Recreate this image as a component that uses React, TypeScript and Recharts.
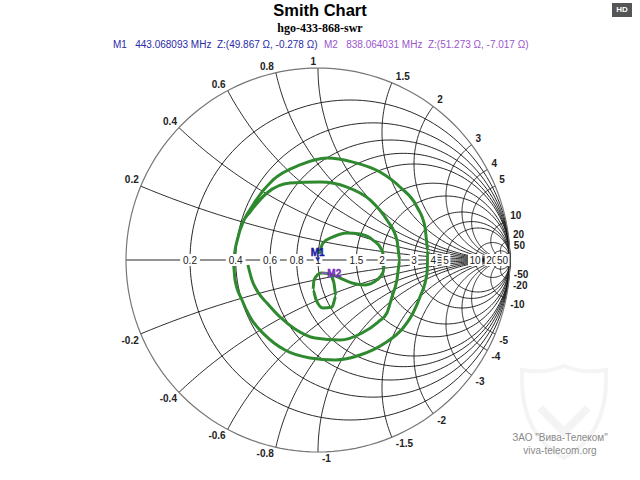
import React from 'react';
import { ComposedChart, Line, Scatter, XAxis, YAxis } from 'recharts';

// ---- chart values ----
const resistanceValues = [0.2, 0.4, 0.6, 0.8, 1, 1.5, 2, 3, 4, 5, 10, 20, 50];
const reactanceValues = [0.2, 0.4, 0.6, 0.8, 1, 1.5, 2, 3, 4, 5, 10, 20, 50];
const resistanceLabels = ['0.2', '0.4', '0.6', '0.8', '1', '1.5', '2', '3', '4', '5', '10', '20', '50'];

const traceRe = [
  -0.365, -0.344, -0.313, -0.266, -0.198, -0.12, -0.016, 0.115, 0.229, 0.313, 0.359, 0.385, 0.411, 0.427, 0.411, 0.359, 0.271, 0.151, 0.01, -0.146, -0.266, -0.354, -0.391,
  -0.427, -0.443, -0.432, -0.396, -0.354, -0.276, -0.172, -0.042, 0.089, 0.219, 0.349, 0.443, 0.495, 0.531, 0.568, 0.573, 0.557, 0.516, 0.427, 0.323, 0.182, 0.047, -0.094, -0.234, -0.339, -0.406, -0.427,
  null,
  0.0, 0.026, 0.078, 0.151, 0.219, 0.286, 0.333, 0.349, 0.339, 0.307, 0.245, 0.177, 0.115, 0.063, 0.016, -0.021, -0.026, -0.01, 0.026, 0.073, 0.094, 0.083, 0.063,
];
const traceIm = [
  -0.026, -0.104, -0.167, -0.224, -0.297, -0.359, -0.406, -0.417, -0.38, -0.323, -0.276, -0.193, -0.104, 0, 0.104, 0.208, 0.313, 0.38, 0.406, 0.401, 0.349, 0.25, 0.198,
  0.078, 0, -0.104, -0.208, -0.297, -0.391, -0.469, -0.51, -0.521, -0.495, -0.432, -0.354, -0.276, -0.193, -0.068, 0.052, 0.172, 0.276, 0.38, 0.458, 0.51, 0.531, 0.495, 0.417, 0.286, 0.156, 0.078,
  null,
  0.005, 0.089, 0.12, 0.141, 0.135, 0.104, 0.052, 0, -0.063, -0.104, -0.13, -0.12, -0.094, -0.073, -0.068, -0.104, -0.156, -0.208, -0.25, -0.245, -0.188, -0.12, -0.073,
];

const markerNames = ['M1', 'M2'];
const markerFreqs = ['443.068093', '838.064031'];
const markerR = [49.867, 51.273];
const markerX = [-0.278, -7.017];
const Z0 = 50;

const markerColors = ['#2a2aa6', '#9a55cc'];
const markerTextColors = ['#1818a0', '#7a2ec0'];

// ---- geometry of the Smith grid ----
const N = 160;
function circlePts(cx: number, cy: number, rad: number) {
  const pts = [];
  for (let i = 0; i <= N; i++) {
    const t = (i / N) * Math.PI * 2;
    pts.push({ x: cx + rad * Math.cos(t), y: cy + rad * Math.sin(t) });
  }
  return pts;
}
function resistanceCircle(r: number) {
  return circlePts(r / (1 + r), 0, 1 / (1 + r));
}
function reactanceArc(xv: number) {
  const s = Math.sign(xv);
  const a = Math.abs(xv);
  const cy = 1 / a;
  const rad = 1 / a;
  let end = Math.atan2((a * a - 1) / (a * (a * a + 1)), -2 / (a * a + 1));
  const start = -Math.PI / 2;
  if (end > start) end -= Math.PI * 2;
  const pts = [];
  for (let i = 0; i <= N; i++) {
    const t = start + ((end - start) * i) / N;
    pts.push({ x: Math.min(1, 1 + rad * Math.cos(t)), y: s * (cy + rad * Math.sin(t)) });
  }
  return pts;
}
function clamp1(v: number) {
  return Math.max(-1, Math.min(1, v));
}

const outerCircle = circlePts(0, 0, 1).map((p) => ({ x: clamp1(p.x), y: clamp1(p.y) }));
const rCircles = resistanceValues.map((r) => resistanceCircle(r));
const xArcs = reactanceValues.flatMap((x) => [reactanceArc(x), reactanceArc(-x)]);
const axisLine = [
  { x: -1, y: 0 },
  { x: 1, y: 0 },
];

const axisLabelData = resistanceValues.map((r, i) => ({ x: (r - 1) / (r + 1), y: 0, text: resistanceLabels[i] }));
const reactLabelData = reactanceValues.flatMap((x) => {
  const d = x * x + 1;
  return [
    { x: (x * x - 1) / d, y: (2 * x) / d, text: String(x), upper: true },
    { x: (x * x - 1) / d, y: (-2 * x) / d, text: '-' + String(x), upper: false },
  ];
});

const traceData = traceRe.map((re, i) => ({ x: re, y: traceIm[i] }));

const markerData = markerNames.map((name, i) => {
  const zr = markerR[i] / Z0;
  const zi = markerX[i] / Z0;
  const nr = zr - 1, ni = zi, dr = zr + 1, di = zi;
  const den = dr * dr + di * di;
  return { x: (nr * dr + ni * di) / den, y: (ni * dr - nr * di) / den, name, idx: i };
});

const FONT = 'Arial, "Liberation Sans", sans-serif';

const AxisLabel = (props: any) => {
  const { cx, cy, payload } = props;
  const t = payload.text as string;
  const w = t.length * 5.6 + 3;
  return (
    <g>
      <rect x={cx - w / 2} y={cy - 6} width={w} height={12} fill="#fff" />
      <text x={cx} y={cy + 3.6} textAnchor="middle" fontSize={10} fontFamily={FONT} fill="#222">
        {t}
      </text>
    </g>
  );
};

const ReactLabel = (props: any) => {
  const { cx, cy, payload } = props;
  const left = payload.upper ? payload.x <= 1e-6 : payload.x < -1e-6;
  const dx = left ? -2 : 4;
  const dy = payload.upper ? -3 : 10;
  return (
    <text x={cx + dx} y={cy + dy} textAnchor={left ? 'end' : 'start'} fontSize={10} fontWeight="bold" fontFamily={FONT} fill="#222">
      {payload.text}
    </text>
  );
};

const MarkerShape = (props: any) => {
  const { cx, cy, payload } = props;
  const i = payload.idx;
  const c = markerColors[i];
  const tc = markerTextColors[i];
  if (i === 0) {
    return (
      <g>
        <path d={`M${cx - 2.5},${cy - 3} L${cx + 2.5},${cy - 3} L${cx},${cy + 1} Z`} fill={c} />
        <text x={cx} y={cy - 5} textAnchor="middle" fontSize={10} fontWeight="bold" fontFamily={FONT} fill={tc} stroke={tc} strokeWidth={0.4}>
          {payload.name}
        </text>
      </g>
    );
  }
  return (
    <g>
      <line x1={cx} y1={cy} x2={cx + 6} y2={cy} stroke={c} strokeWidth={1.5} />
      <text x={cx + 6} y={cy + 4} textAnchor="start" fontSize={10} fontWeight="bold" fontFamily={FONT} fill={tc} stroke={tc} strokeWidth={0.4}>
        {payload.name}
      </text>
    </g>
  );
};

// plot area: unit circle centred at (318,260), radius 192 px; domain [-1.1, 1.1]
const DOM = 1.1;
const RPX = 192;
const CXP = 318;
const CYP = 260;
const W = 640;
const H = 480;
const margin = {
  left: CXP - RPX * DOM,
  right: W - (CXP + RPX * DOM),
  top: CYP - RPX * DOM,
  bottom: H - (CYP + RPX * DOM),
};

export default function App() {
  return (
    <div style={{ position: 'relative', width: W, height: H, background: '#fff', overflow: 'hidden' }}>
      <style>{`body{margin:0}`}</style>
      <ComposedChart width={W} height={H} margin={margin}>
        <XAxis type="number" dataKey="x" domain={[-DOM, DOM]} hide />
        <YAxis type="number" dataKey="y" domain={[-DOM, DOM]} hide />
        {rCircles.map((pts, i) => (
          <Line key={'r' + i} data={pts} dataKey="y" type="linear" dot={false} stroke="#111" strokeWidth={0.9} isAnimationActive={false} activeDot={false} />
        ))}
        {xArcs.map((pts, i) => (
          <Line key={'x' + i} data={pts} dataKey="y" type="linear" dot={false} stroke="#111" strokeWidth={0.9} isAnimationActive={false} activeDot={false} />
        ))}
        <Line data={axisLine} dataKey="y" type="linear" dot={false} stroke="#111" strokeWidth={0.9} isAnimationActive={false} activeDot={false} />
        <Line data={outerCircle} dataKey="y" type="linear" dot={false} stroke="#777" strokeWidth={1.2} isAnimationActive={false} activeDot={false} />
        <Scatter data={axisLabelData} dataKey="y" shape={AxisLabel} isAnimationActive={false} />
        <Scatter data={reactLabelData} dataKey="y" shape={ReactLabel} isAnimationActive={false} />
        <Line data={traceData} dataKey="y" type="monotone" connectNulls={false} dot={false} stroke="#2f8a2f" strokeWidth={3} isAnimationActive={false} activeDot={false} />
        <Scatter data={markerData} dataKey="y" shape={MarkerShape} isAnimationActive={false} />
      </ComposedChart>

      <div style={{ position: 'absolute', left: 0, top: 0, width: W, textAlign: 'center', font: `bold 16.5px ${FONT}`, color: '#000', lineHeight: '20px', pointerEvents: 'none' }}>
        Smith Chart
      </div>
      <div style={{ position: 'absolute', left: 0, top: 21, width: W, textAlign: 'center', font: 'bold 12px "Liberation Serif", "Times New Roman", serif', color: '#000', lineHeight: '14px' }}>
        hgo-433-868-swr
      </div>
      <div style={{ position: 'absolute', left: 113, top: 38, font: `10px ${FONT}`, color: markerColors[0], whiteSpace: 'pre', lineHeight: '14px' }}>
        {`${markerNames[0]}   ${markerFreqs[0]} MHz  Z:(${markerR[0]} Ω, ${markerX[0]} Ω)`}
      </div>
      <div style={{ position: 'absolute', left: 324, top: 38, font: `10px ${FONT}`, color: markerColors[1], whiteSpace: 'pre', lineHeight: '14px' }}>
        {`${markerNames[1]}   ${markerFreqs[1]} MHz  Z:(${markerR[1]} Ω, ${markerX[1]} Ω)`}
      </div>
      <div style={{ position: 'absolute', left: 612, top: 3, width: 20, height: 14, background: '#555', color: '#fff', font: `bold 8px ${FONT}`, lineHeight: '14px', textAlign: 'center' }}>
        HD
      </div>
      <svg style={{ position: 'absolute', left: 518, top: 362 }} width={92} height={100}>
        <path d="M46,4 C62,10 78,10 88,8 C90,50 76,80 46,96 C16,80 2,50 4,8 C14,10 30,10 46,4 Z" fill="none" stroke="#f4f4f4" strokeWidth={4} />
        <path d="M22,46 L46,70 L70,46" fill="none" stroke="#f4f4f4" strokeWidth={8} />
      </svg>
      <div style={{ position: 'absolute', left: 500, top: 431, width: 120, textAlign: 'center', font: `10px ${FONT}`, color: '#8a8a8a', lineHeight: '13px' }}>
        ЗАО "Вива-Телеком"
        <br />
        viva-telecom.org
      </div>
    </div>
  );
}
